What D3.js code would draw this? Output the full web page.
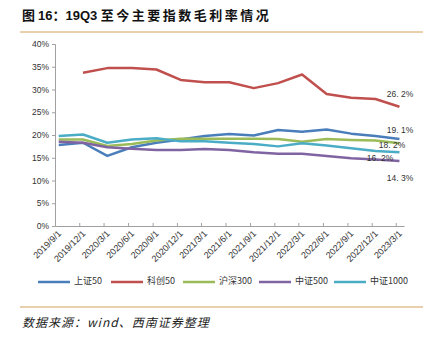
<!DOCTYPE html>
<html>
<head>
<meta charset="utf-8">
<script src="https://cdn.jsdelivr.net/npm/d3@7"></script>
<style>
  body { margin: 0; background: #fff; }
  svg { display: block; font-family: "Liberation Sans", Arial, sans-serif; }
</style>
</head>
<body>
<div id="chart"></div>
<script>
// 横轴标签 (季度)
const quarters = ["2019/9/1", "2019/12/1", "2020/3/1", "2020/6/1", "2020/9/1", "2020/12/1",
  "2021/3/1", "2021/6/1", "2021/9/1", "2021/12/1", "2022/3/1", "2022/6/1",
  "2022/9/1", "2022/12/1", "2023/3/1"];

const seriesNames = ["上证50", "科创50", "沪深300", "中证500", "中证1000"];

// 毛利率 (%)
const sz50   = [17.8, 18.3, 15.4, 17.3, 18.3, 19.0, 19.8, 20.2, 19.9, 21.1, 20.7, 21.2, 20.3, 19.8, 19.1];
const kc50   = [null, 33.7, 34.7, 34.7, 34.4, 32.1, 31.6, 31.6, 30.3, 31.4, 33.3, 29.0, 28.2, 27.9, 26.2];
const hs300  = [19.0, 19.0, 17.6, 18.0, 18.8, 19.2, 19.2, 19.2, 19.2, 19.1, 18.5, 19.1, 18.9, 18.8, 18.2];
const zz500  = [18.5, 18.3, 17.3, 17.0, 16.7, 16.7, 16.9, 16.7, 16.2, 15.9, 15.9, 15.4, 14.9, 14.6, 14.3];
const zz1000 = [19.8, 20.1, 18.3, 19.0, 19.3, 18.6, 18.6, 18.3, 18.0, 17.5, 18.2, 17.7, 17.1, 16.5, 16.2];

const yTicks = [0, 5, 10, 15, 20, 25, 30, 35, 40];
// 末端标注
const endLabels = ["19. 1%", "26. 2%", "18. 2%", "14. 3%", "16. 2%"];

const colors = ["#4a7ebb", "#c0504d", "#9bbb59", "#8064a2", "#4bacc6"];
const allValues = [sz50, kc50, hs300, zz500, zz1000];

const W = 433, H = 340;
const svg = d3.select("#chart").append("svg").attr("width", W).attr("height", H);

// 标题
const title = svg.append("text")
  .attr("x", 22).attr("y", 20)
  .attr("font-weight", "bold")
  .attr("fill", "#111");
title.append("tspan").attr("font-family", "'Noto Sans CJK SC'").attr("font-size", 13).text("图 ");
title.append("tspan").attr("font-family", "'Liberation Sans'").attr("font-size", 13).text("16");
title.append("tspan").attr("font-family", "'Noto Sans CJK SC'").attr("font-size", 13).text("：");
title.append("tspan").attr("font-family", "'Liberation Sans'").attr("font-size", 13).text("19Q3 ");
title.append("tspan").attr("font-family", "'Noto Sans CJK SC'").attr("font-size", 13)
  .attr("letter-spacing", 2.5).text("至今主要指数毛利率情况");

svg.append("line").attr("x1", 20).attr("x2", 423).attr("y1", 32).attr("y2", 32)
  .attr("stroke", "#d4a05a").attr("stroke-width", 1);
svg.append("line").attr("x1", 20).attr("x2", 423).attr("y1", 307).attr("y2", 307)
  .attr("stroke", "#d4a05a").attr("stroke-width", 1);

svg.append("text")
  .attr("x", 22).attr("y", 327)
  .attr("font-family", "'Noto Sans CJK SC'")
  .attr("font-size", 12).attr("font-style", "italic")
  .attr("letter-spacing", 1)
  .attr("fill", "#222")
  .text("数据来源：wind、西南证券整理");

// 比例尺
const parse = d3.timeParse("%Y/%m/%d");
const tickDates = quarters.map(parse);
const x = d3.scaleTime()
  .domain([parse("2019/9/1"), parse("2023/4/1")])
  .range([55, 404]);
const y = d3.scaleLinear().domain([0, 40]).range([226, 44]);

// 数据点位于季度月中
const pointDates = tickDates.map(d => d3.timeDay.offset(d, 14));

// y轴
const yAxis = svg.append("g").attr("transform", "translate(55,0)")
  .call(d3.axisLeft(y).tickValues(yTicks).tickFormat(d => d + "%").tickSize(3).tickPadding(3));
yAxis.select(".domain").attr("stroke", "#a0a0a0");
yAxis.selectAll(".tick line").attr("stroke", "#a0a0a0");
yAxis.selectAll("text").attr("font-size", 8.5).attr("fill", "#333");

// x轴
const xAxis = svg.append("g").attr("transform", "translate(0,226)")
  .call(d3.axisBottom(x).tickValues(tickDates).tickSizeInner(-3).tickSizeOuter(0)
    .tickFormat((d, i) => quarters[i]));
xAxis.select(".domain").attr("stroke", "#a0a0a0");
xAxis.selectAll(".tick line").attr("stroke", "#a0a0a0");
xAxis.selectAll("text")
  .attr("font-size", 9).attr("fill", "#333")
  .attr("text-anchor", "end")
  .attr("transform", "translate(4,6) rotate(-45)")
  .attr("dy", "0.35em").attr("y", 0).attr("x", 0);

// 折线
const line = d3.line()
  .defined(d => d.v !== null)
  .x(d => x(d.date))
  .y(d => y(d.v));

allValues.forEach((vals, i) => {
  const pts = vals.map((v, j) => ({ date: pointDates[j], v: v }));
  svg.append("path")
    .datum(pts)
    .attr("fill", "none")
    .attr("stroke", colors[i])
    .attr("stroke-width", 2.5)
    .attr("stroke-linejoin", "round")
    .attr("d", line);
});

// 末端数值标注
const labelY = [131, 95, 146, 179, 159];
const labelX = [400, 400, 392, 400, 380];
endLabels.forEach((t, i) => {
  svg.append("text")
    .attr("x", labelX[i]).attr("y", labelY[i])
    .attr("text-anchor", "middle")
    .attr("dominant-baseline", "middle")
    .attr("font-size", 8.5)
    .attr("fill", "#333")
    .text(t);
});

// 图例
const legendX = [38, 111, 183, 259, 334];
seriesNames.forEach((name, i) => {
  const g = svg.append("g").attr("transform", `translate(${legendX[i]},282)`);
  g.append("line").attr("x1", 0).attr("x2", 32).attr("y1", 0).attr("y2", 0)
    .attr("stroke", colors[i]).attr("stroke-width", 2.5);
  g.append("text").attr("x", 36).attr("y", 0)
    .attr("dominant-baseline", "middle")
    .attr("font-family", "'Noto Sans CJK SC', 'Liberation Sans'")
    .attr("font-size", 9).attr("fill", "#333")
    .text(name);
});
</script>
</body>
</html>
